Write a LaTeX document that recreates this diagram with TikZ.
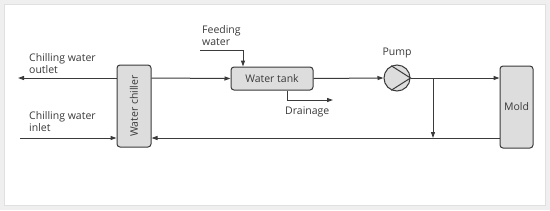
\documentclass[tikz,border=0pt]{standalone}
\usepackage{fontspec}
\setmainfont{Open Sans}
\usepackage{tikz}
\usepackage{xcolor}
\usetikzlibrary{arrows.meta, positioning}
\definecolor{linegray}{HTML}{3A3A3A}
\definecolor{boxfill}{HTML}{DDDDDD}
\definecolor{framegray}{HTML}{EFEFEF}

\begin{document}
\begin{tikzpicture}[x=1pt, y=-1pt,
    unit/.style={draw=linegray, fill=boxfill, rounded corners=3pt, line width=1pt},
    pipe/.style={draw=linegray, line width=1pt},
    flow/.style={pipe, -{Triangle[length=6pt, width=4pt]}},
    lbl/.style={align=left, font=\fontsize{10.5}{12}\selectfont, text=linegray, inner sep=0pt}]
    % Frame
    \fill[framegray] (0,0) rectangle (550,210);
    \filldraw[fill=white, draw=black!12] (4,4) rectangle (545,205);
    \useasboundingbox (0,0) rectangle (550,210);

    % Units
    \node[unit, minimum width=34pt, minimum height=82pt] (chiller) at (134,106) {};
    \node[lbl, rotate=90] at (chiller.center) {Water chiller};
    \node[unit, minimum width=82pt, minimum height=23pt, lbl] (tank) at (272,78.5) {Water tank};
    \node[unit, minimum width=33pt, minimum height=82pt, lbl] (mold) at (516.5,107) {Mold};
    \node[circle, pipe, fill=boxfill, minimum size=26pt, inner sep=0pt] (pump) at (397,78) {};
    \draw[pipe] (pump.115) -- (pump.east) -- (pump.245);

    % Free ends
    \coordinate (outlet) at (18,78);
    \coordinate (inlet) at (20,138);
    \coordinate (feed) at (200,50);
    \coordinate (drain) at (333,100);
    \coordinate (branch) at (433,78);

    % Pipes
    \draw[flow] (chiller.west |- 0,78) -- (outlet);
    \draw[flow] (inlet) -- (chiller.west |- 0,138);
    \draw[flow] (chiller.east |- 0,78) -- (tank.west);
    \draw[flow] (feed) -- (243,50) -- (tank.north -| 243,0);
    \draw[flow] (tank.south -| 287,0) -- (287,100) -- (drain);
    \draw[flow] (tank.east) -- (pump.west);
    \draw[flow] (pump.east) -- (mold.west |- 0,78);
    \draw[flow] (branch) -- (433,138);
    \draw[flow] (mold.west |- 0,138) -- (chiller.east |- 0,138);

    % Labels
    \node[lbl, anchor=base west] (outletlbl) at (29,73) {Chilling water\\outlet};
    \node[lbl, anchor=base west] (inletlbl) at (29,131) {Chilling water\\inlet};
    \node[lbl, anchor=base west] (feedlbl) at (202,45) {Feeding\\water};
    \node[lbl, anchor=base west] (drainlbl) at (285,114) {Drainage};
    \node[lbl, above=6pt of pump] (pumplbl) {Pump};
\end{tikzpicture}
\end{document}
